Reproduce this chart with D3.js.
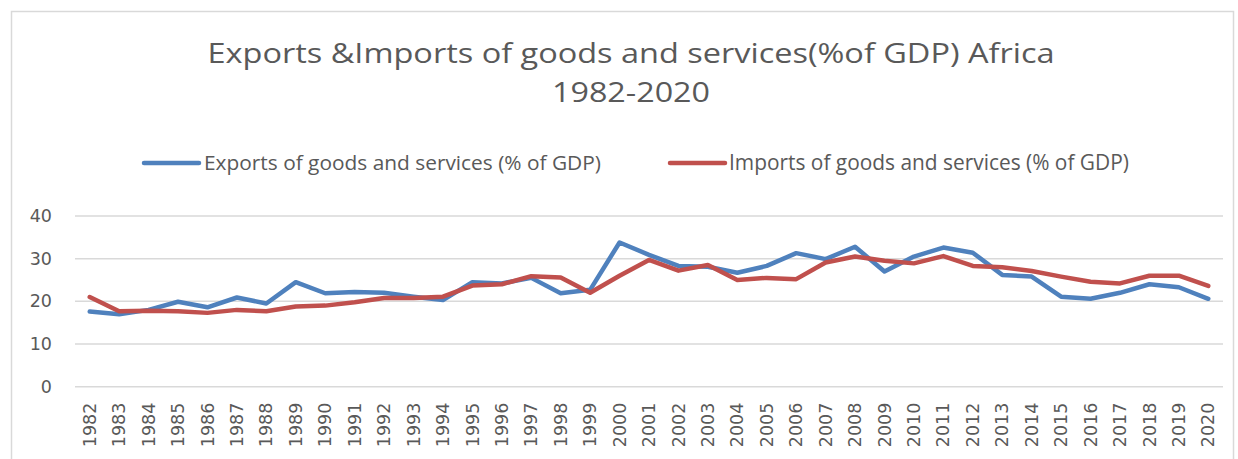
<!DOCTYPE html>
<html>
<head>
<meta charset="utf-8">
<script src="https://cdn.jsdelivr.net/npm/d3@7"></script>
<style>
  body { margin: 0; background: #fff; }
  svg { display: block; }
</style>
</head>
<body>
<div id="chart"></div>
<script>
// Chart data
const years = [
  "1982", "1983", "1984", "1985", "1986", "1987", "1988", "1989", "1990", "1991",
  "1992", "1993", "1994", "1995", "1996", "1997", "1998", "1999", "2000", "2001",
  "2002", "2003", "2004", "2005", "2006", "2007", "2008", "2009", "2010", "2011",
  "2012", "2013", "2014", "2015", "2016", "2017", "2018", "2019", "2020"
];
const exportsPct = [
  17.6, 17.0, 18.0, 19.9, 18.6, 20.9, 19.5, 24.5, 21.9, 22.2, 22.0, 21.1,
  20.3, 24.5, 24.2, 25.5, 21.9, 22.7, 33.8, 30.9, 28.3, 28.1, 26.7, 28.3, 31.3,
  29.9, 32.8, 27.0, 30.5, 32.6, 31.4, 26.2, 25.8, 21.1, 20.6, 22.0, 24.0, 23.3, 20.6
];
const importsPct = [
  21.0, 17.7, 17.8, 17.7, 17.3, 18.0, 17.7, 18.8, 19.0, 19.8, 20.8, 20.8,
  21.1, 23.7, 24.0, 25.9, 25.6, 22.0, 26.0, 29.7, 27.2, 28.5, 25.0, 25.5, 25.2,
  29.1, 30.5, 29.5, 28.9, 30.6, 28.3, 28.0, 27.1, 25.8, 24.6, 24.2, 26.0, 26.0, 23.6
];
const yTicks = [0, 10, 20, 30, 40];
const seriesNames = [
  "Exports of goods and services (% of GDP)",
  "Imports of goods and services (% of GDP)"
];
const titleLines = [
  "Exports &Imports of goods and services(%of GDP) Africa",
  "1982-2020"
];

drawChart();

function drawChart() {
  const W = 1238, H = 459;
  const textColor = "#595959";
  const gridColor = "#d9d9d9";
  const colors = ["#4f81bd", "#c0504d"];
  const textFont = "'Open Sans', sans-serif";
  const tickFont = "'DejaVu Sans', sans-serif";

  const svg = d3.select("#chart")
    .append("svg")
    .attr("width", W)
    .attr("height", H);

  // chart area border
  svg.append("rect")
    .attr("x", 11.5).attr("y", 11.5)
    .attr("width", 1222).attr("height", 470)
    .attr("fill", "none")
    .attr("stroke", gridColor)
    .attr("stroke-width", 1.5);

  // fit a text element to a target width by adjusting its font size
  function fitText(sel, target) {
    const fs = parseFloat(sel.style("font-size"));
    const len = sel.node().getComputedTextLength();
    sel.style("font-size", (fs * target / len) + "px");
  }

  // Title (two lines, centered), glyphs widened a little to the reference width
  const titleSpecs = [
    { y: 63, w: 847 },
    { y: 102, w: 158 }
  ];
  titleSpecs.forEach((d, i) => {
    svg.append("text")
      .attr("x", 631).attr("y", d.y)
      .attr("text-anchor", "middle")
      .attr("textLength", d.w)
      .attr("lengthAdjust", "spacingAndGlyphs")
      .style("font-family", textFont)
      .style("font-size", "28px")
      .style("fill", textColor)
      .text(titleLines[i]);
  });

  // Scales
  const x = d3.scaleBand().domain(years).range([75, 1223]).padding(0);
  const y = d3.scaleLinear().domain([0, 40]).range([386.7, 216]);
  const cx = d => x(d) + x.bandwidth() / 2;

  // Gridlines
  svg.append("g")
    .selectAll("line")
    .data(yTicks)
    .join("line")
    .attr("x1", 75).attr("x2", 1223)
    .attr("y1", d => y(d)).attr("y2", d => y(d))
    .attr("stroke", gridColor)
    .attr("stroke-width", 1.5);

  // Y axis labels
  const yAxis = svg.append("g")
    .attr("transform", "translate(60,0)")
    .call(d3.axisLeft(y).tickValues(yTicks).tickSize(0).tickPadding(8));
  yAxis.select(".domain").remove();
  yAxis.selectAll("text")
    .style("font-family", tickFont)
    .style("font-size", "17.5px")
    .style("fill", textColor);

  // X axis labels (rotated)
  const xAxis = svg.append("g")
    .attr("transform", "translate(0,386.7)")
    .call(d3.axisBottom(x).tickSize(0));
  xAxis.select(".domain").remove();
  xAxis.selectAll("text")
    .attr("transform", "translate(0,16) rotate(-90)")
    .attr("x", 0).attr("y", 0)
    .attr("dy", "0.35em")
    .style("text-anchor", "end")
    .style("font-family", tickFont)
    .style("font-size", "17.5px")
    .style("fill", textColor);

  // Lines
  const line = d3.line()
    .x((d, i) => cx(years[i]))
    .y(d => y(d));

  [exportsPct, importsPct].forEach((vals, i) => {
    svg.append("path")
      .datum(vals)
      .attr("d", line)
      .attr("fill", "none")
      .attr("stroke", colors[i])
      .attr("stroke-width", 4.5)
      .attr("stroke-linejoin", "round")
      .attr("stroke-linecap", "round");
  });

  // Legend
  const legendItems = [
    { x1: 144, x2: 199, tx: 204, tw: 397 },
    { x1: 670, x2: 725, tx: 729, tw: 400 }
  ];
  legendItems.forEach((d, i) => {
    svg.append("line")
      .attr("x1", d.x1).attr("x2", d.x2)
      .attr("y1", 163).attr("y2", 163)
      .attr("stroke", colors[i])
      .attr("stroke-width", 4.5)
      .attr("stroke-linecap", "round");
    const lt = svg.append("text")
      .attr("x", d.tx).attr("y", 163)
      .attr("dy", "0.35em")
      .style("font-family", textFont)
      .style("font-size", "18px")
      .style("fill", textColor)
      .text(seriesNames[i]);
    fitText(lt, d.tw);
  });
}
</script>
</body>
</html>
